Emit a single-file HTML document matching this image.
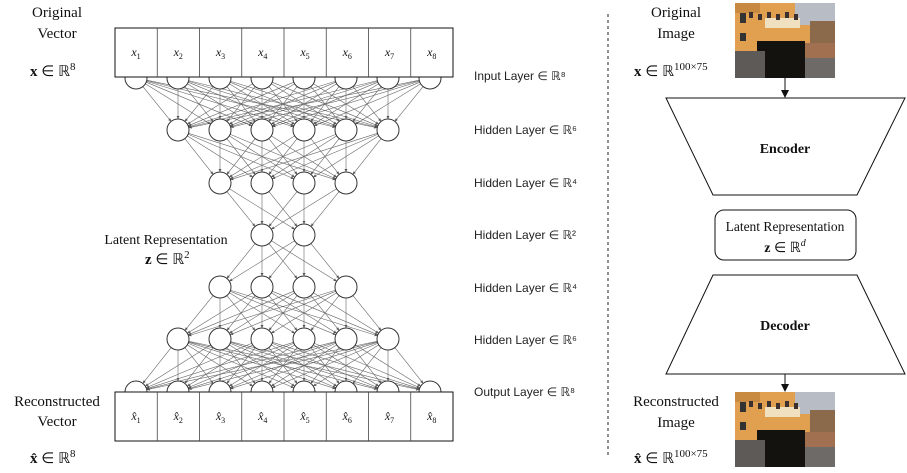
<!DOCTYPE html>
<html><head><meta charset="utf-8"><style>
body{margin:0;background:#fff;width:907px;height:473px;overflow:hidden}
svg{display:block}
.s{font-family:"Liberation Serif",serif;fill:#111}
.l{font-family:"Liberation Sans",sans-serif;font-size:12px;fill:#222}
</style></head><body>
<svg id="c" width="907" height="473" viewBox="0 0 907 473">
<defs>
<marker id="ah" markerWidth="6" markerHeight="6" refX="5" refY="3" orient="auto"><path d="M0,0.5 L5,3 L0,5.5 z" fill="#555"/></marker>
<marker id="ab" markerWidth="8" markerHeight="8" refX="7" refY="4" orient="auto"><path d="M0,0 L8,4 L0,8 z" fill="#111"/></marker>
</defs>
<g id="edges"></g>
<g id="nodes"></g>

<g>
<rect x="115" y="28" width="338" height="49" fill="#fff" stroke="#111" stroke-width="1"/>
<g id="incells"></g>
</g>
<g>
<rect x="115" y="392" width="338" height="49" fill="#fff" stroke="#111" stroke-width="1"/>
<g id="outcells"></g>
</g>

<text class="s" x="57" y="17" font-size="15" text-anchor="middle">Original</text>
<text class="s" x="57" y="38" font-size="15" text-anchor="middle">Vector</text>
<text class="s" x="30" y="76" font-size="15"><tspan font-weight="bold">x</tspan> ∈ ℝ<tspan font-size="11" dy="-6">8</tspan></text>
<text class="s" x="166" y="244" font-size="14" text-anchor="middle">Latent Representation</text>
<text class="s" x="145" y="264" font-size="15"><tspan font-weight="bold">z</tspan> ∈ ℝ<tspan font-size="11" dy="-6">2</tspan></text>
<text class="s" x="57" y="406" font-size="15" text-anchor="middle">Reconstructed</text>
<text class="s" x="57" y="426" font-size="15" text-anchor="middle">Vector</text>
<text class="s" x="30" y="463" font-size="15"><tspan font-weight="bold">x̂</tspan> ∈ ℝ<tspan font-size="11" dy="-6">8</tspan></text>

<g id="layerlabels">
<text class="l" x="474" y="80">Input Layer ∈ ℝ⁸</text>
<text class="l" x="474" y="134">Hidden Layer ∈ ℝ⁶</text>
<text class="l" x="474" y="187">Hidden Layer ∈ ℝ⁴</text>
<text class="l" x="474" y="239">Hidden Layer ∈ ℝ²</text>
<text class="l" x="474" y="292">Hidden Layer ∈ ℝ⁴</text>
<text class="l" x="474" y="344">Hidden Layer ∈ ℝ⁶</text>
<text class="l" x="474" y="396">Output Layer ∈ ℝ⁸</text>
</g>

<line x1="608" y1="14" x2="608" y2="458" stroke="#222" stroke-width="1" stroke-dasharray="3,3"/>

<text class="s" x="676" y="17" font-size="15" text-anchor="middle">Original</text>
<text class="s" x="676" y="38" font-size="15" text-anchor="middle">Image</text>
<text class="s" x="634" y="76" font-size="15"><tspan font-weight="bold">x</tspan> ∈ ℝ<tspan font-size="11" dy="-6">100×75</tspan></text>

<g id="img1" transform="translate(735,3)"></g>
<line x1="785" y1="78" x2="785" y2="97" stroke="#111" marker-end="url(#ab)"/>
<polygon points="666,98 905,98 857,195 713,195" fill="#fff" stroke="#111"/>
<text class="s" x="785" y="153" font-size="14" font-weight="bold" text-anchor="middle">Encoder</text>
<rect x="715" y="210" width="141" height="50" rx="9" fill="#fff" stroke="#111"/>
<text class="s" x="785" y="231" font-size="13.5" text-anchor="middle">Latent Representation</text>
<text class="s" x="785" y="252" font-size="14" text-anchor="middle"><tspan font-weight="bold">z</tspan> ∈ ℝ<tspan font-size="10" dy="-6" font-style="italic">d</tspan></text>
<polygon points="713,275 857,275 905,374 666,374" fill="#fff" stroke="#111"/>
<text class="s" x="785" y="330" font-size="14" font-weight="bold" text-anchor="middle">Decoder</text>
<line x1="785" y1="374" x2="785" y2="391" stroke="#111" marker-end="url(#ab)"/>
<g id="img2" transform="translate(735,392)"></g>
<text class="s" x="676" y="406" font-size="15" text-anchor="middle">Reconstructed</text>
<text class="s" x="676" y="427" font-size="15" text-anchor="middle">Image</text>
<text class="s" x="634" y="463" font-size="15"><tspan font-weight="bold">x̂</tspan> ∈ ℝ<tspan font-size="11" dy="-6">100×75</tspan></text>
</svg>
<script>
const layerSizes=[8,6,4,2,4,6,8];
const layerY=[78,130,183,235,287,339,392];
const NS="http://www.w3.org/2000/svg";
const R=11, dx=42, cx0=283;
function mk(t,a,p){const e=document.createElementNS(NS,t);for(const k in a)e.setAttribute(k,a[k]);p.appendChild(e);return e;}
const E=document.getElementById('edges'),N=document.getElementById('nodes');
function xs(n){const r=[];for(let i=0;i<n;i++)r.push(cx0+(i-(n-1)/2)*dx);return r;}
for(let l=0;l<layerSizes.length-1;l++){
  const a=xs(layerSizes[l]),b=xs(layerSizes[l+1]),y1=layerY[l],y2=layerY[l+1];
  a.forEach(x1=>b.forEach(x2=>{
    const L=Math.hypot(x2-x1,y2-y1),ux=(x2-x1)/L,uy=(y2-y1)/L;
    const ln=mk('line',{x1:x1+ux*R,y1:y1+uy*R,x2:x2-ux*R,y2:y2-uy*R,stroke:'#666','stroke-width':0.6,'marker-end':'url(#ah)'},E);
    
    
  }));
}
layerSizes.forEach((n,l)=>xs(n).forEach(x=>{
  const c=mk('circle',{cx:x,cy:layerY[l],r:R,fill:'#fff',stroke:'#333','stroke-width':1},N);
  
  
}));
function cells(id,y,hat){
  const g=document.getElementById(id);
  for(let i=0;i<8;i++){
    const x=115+i*338/8;
    if(i>0)mk('line',{x1:x,y1:y,x2:x,y2:y+49,stroke:'#444','stroke-width':0.8},g);
    const t=mk('text',{x:x+21,y:y+28,'font-size':12,'text-anchor':'middle',class:'s','font-style':'italic'},g);
    t.innerHTML=(hat?'x̂':'x')+'<tspan font-size="8" dy="3" font-style="normal">'+(i+1)+'</tspan>';
    
    
  }
}
cells('incells',28,false);cells('outcells',392,true);
function img(id){
  const g=document.getElementById(id);
  const rs=[[0,0,100,75,'#e0a050'],[60,0,40,22,'#b8bcc4'],[75,18,25,35,'#8a6a4a'],[0,55,100,20,'#6d6a68'],[22,38,48,37,'#14120f'],[0,48,30,27,'#5e5a58'],[0,0,25,10,'#c88a40'],[30,15,35,10,'#f0e0c0'],[5,10,6,10,'#333'],[5,30,6,8,'#333'],[70,40,30,15,'#a07050']];
  rs.forEach(r=>mk('rect',{x:r[0],y:r[1],width:r[2],height:r[3],fill:r[4]},g));
  for(let i=0;i<6;i++)mk('rect',{x:14+i*9,y:9+(i%2)*2,width:4,height:6,fill:'#3a3030'},g);
}
img('img1');img('img2');
</script>
</body></html>
